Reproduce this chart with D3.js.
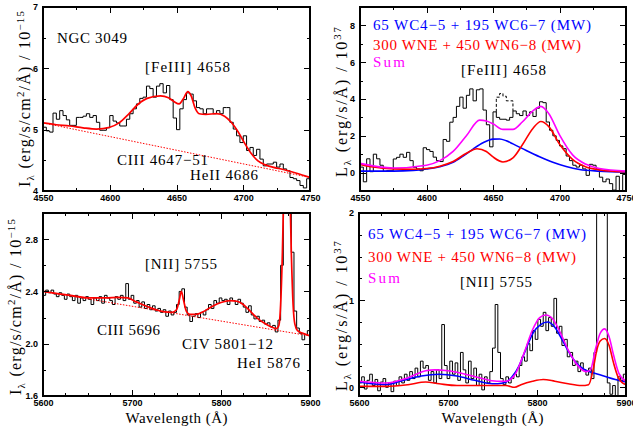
<!DOCTYPE html>
<html>
<head>
<meta charset="utf-8">
<script src="https://cdn.jsdelivr.net/npm/d3@7"></script>
<style>
  body { margin: 0; background: #fff; }
  svg text { fill: #000; }
</style>
</head>
<body>
<svg id="chart" width="633" height="430"></svg>
<script>
// ---- data ----
// NGC 3049, [FeIII] 4658 region (flux, 1e-15 erg/s/cm2/A), 2.5 A bins from 4550
var tlStart = 4550, tlBin = 2.5;
var tlFlux = [5.04, 4.98, 4.96, 5.27, 5.17, 5.31, 5.23, 5.16, 5.07, 5.07,
  5.2, 5.2, 5.22, 5.26, 5.2, 5.23, 5.12, 4.99, 4.99, 5.03,
  5.23, 5.14, 5.11, 5.06, 5.06, 5.17, 5.26, 5.34, 5.42, 5.51,
  5.53, 5.71, 5.67, 5.53, 5.71, 5.75, 5.6, 5.72, 5.49, 5.19,
  5.0, 5.34, 5.49, 5.6, 5.58, 5.47, 5.36, 5.34, 5.26, 5.34,
  5.34, 5.26, 5.31, 5.26, 5.36, 5.36, 5.12, 5.01, 4.9, 4.79,
  4.9, 4.66, 4.71, 4.58, 4.68, 4.52, 4.41, 4.44, 4.44, 4.47,
  4.39, 4.44, 4.36, 4.33, 4.22, 4.2, 4.17, 4.09, 4.05, 4.2];
var tlFit = [[4550, 5.11], [4560, 5.08], [4570, 5.06], [4580, 5.03], [4590, 5.01],
  [4600, 5.04], [4607, 5.11], [4614, 5.25], [4621, 5.41], [4628, 5.51], [4638, 5.55],
  [4644, 5.52], [4648, 5.46], [4652, 5.42], [4655, 5.5], [4658.5, 5.62], [4661, 5.55],
  [4664, 5.35], [4667, 5.26], [4672, 5.25], [4680, 5.26], [4686, 5.22], [4691, 5.12],
  [4696, 4.97], [4701, 4.78], [4706, 4.61], [4711, 4.49], [4716, 4.43], [4722, 4.39],
  [4730, 4.35], [4740, 4.29], [4750, 4.22]];
var tlCont = [[4550, 5.11], [4750, 4.22]];

// luminosity, 1e37 erg/s/A, same bins
var trFlux = [0.3, -0.5, 0.75, 0.05, 1.0, 0.75, 0.4, 0.07, 0.1, 0.1,
  0.74, 0.83, 1.0, 0.83, 1.1, 0.65, 0.29, 0.2, 0.1, 1.35,
  1.25, 1.15, 0.84, 0.65, 0.6, 1.8, 1.7, 2.74, 3.0, 3.6,
  4.1, 3.5, 4.2, 4.55, 3.9, 4.5, 4.55, 3.4, 2.6, 1.4,
  3.3, 3.0, 2.9, 2.9, 2.85, 3.0, 3.35, 3.2, 3.1, 3.35,
  3.1, 3.3, 3.05, 3.5, 3.85, 3.8, 2.75, 2.3, 2.0, 1.75,
  1.45, 1.3, 0.9, 0.65, 0.4, 0.3, 0.4, 0.2, -0.15, 0.45,
  0.4, 0.2, -0.25, -0.5, -0.35, -0.6, -0.95, -0.2, -1.0, -0.1];
var trDashStart = 4652.5;
var trDashFlux = [3.9, 4.1, 4.3, 4.15, 3.9];
var trWC = [[4550, 0.08], [4575, 0.08], [4590, 0.12], [4600, 0.2], [4610, 0.32], [4620, 0.56],
  [4627.5, 0.9], [4635, 1.28], [4642.5, 1.62], [4650, 1.82], [4655, 1.83], [4660, 1.73],
  [4665, 1.56], [4675, 1.2], [4685, 0.86], [4695, 0.56], [4705, 0.33], [4715, 0.17],
  [4730, 0.08], [4750, 0.03]];
var trWN = [[4550, 0.45], [4560, 0.3], [4575, 0.2], [4590, 0.18], [4600, 0.22], [4610, 0.35],
  [4620, 0.6], [4630, 1.05], [4638, 1.3], [4645, 1.15], [4650, 0.85], [4657.5, 0.58],
  [4665, 0.8], [4672, 1.5], [4680, 2.4], [4686, 2.78], [4692, 2.5], [4700, 1.55],
  [4710, 0.7], [4720, 0.3], [4730, 0.15], [4740, 0.08], [4750, 0.05]];
var trSum = [[4550, 0.5], [4575, 0.25], [4600, 0.4], [4610, 0.65], [4620, 1.15], [4630, 2.0],
  [4640, 2.85], [4645, 2.8], [4650, 2.65], [4657.5, 2.35], [4665, 2.35], [4672, 2.75],
  [4680, 3.35], [4686, 3.6], [4692, 3.2], [4700, 2.05], [4710, 0.95], [4720, 0.45],
  [4730, 0.22], [4750, 0.08]];

// [NII] 5755 region, 3 A bins from 5600
var blStart = 5600, blBin = 3;
var blFlux = [2.37, 2.41, 2.39, 2.41, 2.38, 2.36, 2.39, 2.37, 2.34, 2.38,
  2.36, 2.33, 2.37, 2.31, 2.35, 2.33, 2.36, 2.34, 2.30, 2.35,
  2.33, 2.36, 2.31, 2.37, 2.35, 2.33, 2.30, 2.36, 2.34, 2.37,
  2.33, 2.46, 2.34, 2.37, 2.31, 2.33, 2.28, 2.32, 2.27, 2.30,
  2.26, 2.29, 2.25, 2.27, 2.24, 2.26, 2.21, 2.25, 2.22, 2.24,
  2.30, 2.40, 2.42, 2.28, 2.22, 2.17, 2.21, 2.23, 2.20, 2.24,
  2.22, 2.26, 2.30, 2.27, 2.33, 2.31, 2.35, 2.33, 2.34, 2.30,
  2.35, 2.33, 2.30, 2.34, 2.31, 2.28, 2.24, 2.29, 2.22, 2.19,
  2.21, 2.17, 2.18, 2.15, 2.16, 2.13, 2.14, 2.09, 2.18, 2.6,
  3.6, 4.0, 3.7, 2.7, 2.25, 2.12, 2.08, 2.03, 2.07, 2.10];
var blFit = [[5600, 2.40], [5620, 2.38], [5640, 2.36], [5655, 2.35], [5670, 2.35], [5685, 2.355],
  [5695, 2.35], [5705, 2.32], [5715, 2.29], [5725, 2.265], [5735, 2.245], [5745, 2.24],
  [5750, 2.26], [5753, 2.33], [5755.5, 2.40], [5758, 2.33], [5761, 2.25], [5765, 2.225],
  [5772, 2.225], [5780, 2.245], [5790, 2.285], [5800, 2.315], [5810, 2.33], [5818, 2.325],
  [5825, 2.30], [5832, 2.255], [5840, 2.2], [5848, 2.16], [5856, 2.13], [5862, 2.115],
  [5865, 2.14], [5867, 2.3], [5869, 2.7], [5871, 3.3], [5874, 3.8], [5877, 3.3],
  [5879, 2.7], [5881, 2.3], [5883, 2.15], [5886, 2.1], [5892, 2.08], [5900, 2.06]];
var blCont = [[5600, 2.40], [5900, 2.06]];

var brFlux = [0.05, 0.12, -0.02, 0.08, 0.15, 0.02, 0.09, -0.04, 0.06, 0.1,
  0.0, 0.05, -0.05, 0.07, 0.02, 0.12, 0.05, 0.15, 0.08, 0.18,
  0.1, 0.22, 0.12, 0.3, 0.22, 0.25, 0.08, 0.18, 0.05, 0.2,
  0.1, 0.72, 0.25, 0.1, 0.3, 0.15, 0.28, 0.08, 0.4, 0.2,
  0.05, 0.3, 0.1, 0.22, 0.02, 0.15, -0.03, 0.12, 0.05, 0.18,
  0.45, 0.95, 0.4, 0.1, 0.03, 0.12, 0.05, 0.1, 0.15, 0.12,
  0.25, 0.35, 0.3, 0.5, 0.42, 0.65, 0.55, 0.78, 0.7, 0.86,
  0.65, 0.8, 0.7, 1.02, 0.62, 0.7, 0.48, 0.55, 0.35, 0.4,
  0.25, 0.3, 0.18, 0.28, 0.2, 0.14, 0.22, 0.1, 0.4, 2.5,
  3.5, 4.0, 3.5, 0.05, -0.08, 0.02, -0.1, 0.12, 0.08, 0.15];
var brWC = [[5600, 0.06], [5630, 0.03], [5650, 0.08], [5670, 0.13], [5690, 0.15], [5710, 0.13],
  [5730, 0.08], [5750, 0.04], [5762, 0.05], [5772, 0.12], [5780, 0.25], [5788, 0.45],
  [5796, 0.63], [5804, 0.72], [5812, 0.75], [5820, 0.69], [5828, 0.55], [5836, 0.4],
  [5844, 0.28], [5852, 0.21], [5862, 0.17], [5875, 0.13], [5888, 0.09], [5900, 0.06]];
var brWN = [[5600, 0.01], [5630, 0.01], [5655, 0.03], [5675, 0.06], [5690, 0.04], [5710, 0.02],
  [5740, 0.02], [5765, 0.02], [5775, 0.0], [5782, 0.03], [5795, 0.07], [5807, 0.09],
  [5820, 0.07], [5835, 0.04], [5850, 0.02], [5858, 0.03], [5863, 0.2], [5867, 0.42],
  [5871, 0.53], [5876, 0.56], [5881, 0.48], [5886, 0.28], [5891, 0.12], [5896, 0.05], [5900, 0.03]];
var brSum = [[5600, 0.07], [5630, 0.05], [5655, 0.11], [5675, 0.19], [5685, 0.2], [5700, 0.19],
  [5715, 0.16], [5735, 0.11], [5755, 0.07], [5765, 0.07], [5775, 0.14], [5785, 0.38],
  [5795, 0.66], [5803, 0.8], [5810, 0.83], [5818, 0.78], [5826, 0.63], [5835, 0.43],
  [5845, 0.26], [5855, 0.18], [5860, 0.2], [5866, 0.45], [5871, 0.62], [5876, 0.67],
  [5881, 0.58], [5886, 0.37], [5892, 0.16], [5900, 0.07]];

var legendWC = '65 WC4\u22125 + 195 WC6\u22127 (MW)';
var legendWN = '300 WNE + 450 WN6\u22128 (MW)';

// ---- drawing ----
var svg = d3.select('#chart');
var SERIF = 'Liberation Serif';
var RED = '#ff0000', BLUE = '#0000ff', MAG = '#ff00ff';

function stepPts(start, bin, vals) {
  var pts = vals.map(function (v, i) { return [start + i * bin, v]; });
  pts.push([start + vals.length * bin, vals[vals.length - 1]]);
  return pts;
}

function richText(sel, parts, size) {
  var shift = 0;
  parts.forEach(function (p) {
    var target = p.sup ? -6 : (p.sub ? 4 : 0);
    sel.append('tspan')
      .attr('dy', target - shift)
      .attr('font-size', (p.sup || p.sub) ? size * 0.68 : size)
      .text(p.t);
    shift = target;
  });
}

var clipId = 0;
function panel(p) {
  var g = svg.append('g').attr('transform', 'translate(' + p.x0 + ',' + p.y0 + ')');
  var x = d3.scaleLinear().domain(p.xd).range([0, p.w]);
  var y = d3.scaleLinear().domain(p.yd).range([p.h, 0]);
  var id = 'clip' + (clipId++);
  g.append('clipPath').attr('id', id).append('rect').attr('width', p.w).attr('height', p.h);
  var plot = g.append('g').attr('clip-path', 'url(#' + id + ')');

  var minorX = p.xm.filter(function (v) { return p.xt.indexOf(v) < 0; });
  var minorY = p.ym.filter(function (v) { return p.yt.every(function (t) { return Math.abs(t - v) > 1e-9; }); });

  function style(s) {
    s.select('.domain').remove();
    s.attr('font-family', 'Liberation Sans').attr('font-size', 9).attr('font-weight', 'bold');
    s.selectAll('line').attr('stroke', '#000').attr('shape-rendering', 'crispEdges');
  }
  g.append('g').attr('transform', 'translate(0,' + p.h + ')')
    .call(d3.axisBottom(x).tickValues(p.xt).tickSizeInner(-6).tickSizeOuter(0).tickPadding(4).tickFormat(d3.format('d'))).call(style);
  g.append('g').attr('transform', 'translate(0,' + p.h + ')')
    .call(d3.axisBottom(x).tickValues(minorX).tickSize(-3).tickFormat('')).call(style);
  g.append('g').call(d3.axisTop(x).tickValues(p.xt).tickSize(-6).tickFormat('')).call(style);
  g.append('g').call(d3.axisTop(x).tickValues(minorX).tickSize(-3).tickFormat('')).call(style);
  g.append('g')
    .call(d3.axisLeft(y).tickValues(p.yt).tickSizeInner(-6).tickSizeOuter(0).tickPadding(5).tickFormat(p.yf)).call(style);
  g.append('g').call(d3.axisLeft(y).tickValues(minorY).tickSize(-3).tickFormat('')).call(style);
  g.append('g').attr('transform', 'translate(' + p.w + ',0)')
    .call(d3.axisRight(y).tickValues(p.yt).tickSize(-6).tickFormat('')).call(style);
  g.append('g').attr('transform', 'translate(' + p.w + ',0)')
    .call(d3.axisRight(y).tickValues(minorY).tickSize(-3).tickFormat('')).call(style);

  g.append('rect').attr('width', p.w).attr('height', p.h)
    .attr('fill', 'none').attr('stroke', '#000').attr('stroke-width', 1.1)
    .attr('shape-rendering', 'crispEdges');

  return { g: g, plot: plot, x: x, y: y };
}

function addPath(P, pts, color, width, curve, dash) {
  var line = d3.line().x(function (d) { return P.x(d[0]); }).y(function (d) { return P.y(d[1]); }).curve(curve);
  P.plot.append('path').datum(pts).attr('d', line)
    .attr('fill', 'none').attr('stroke', color).attr('stroke-width', width)
    .attr('stroke-dasharray', dash || null);
}

function note(t, x, y, color, len) {
  var s = svg.append('text').attr('x', x).attr('y', y)
    .attr('font-family', SERIF).attr('font-size', 15)
    .style('fill', color || '#000').text(t);
  if (len) s.attr('textLength', len).attr('lengthAdjust', 'spacing');
}

function yLabel(parts, x, y, len) {
  var t = svg.append('text')
    .attr('transform', 'translate(' + x + ',' + y + ') rotate(-90)')
    .attr('text-anchor', 'middle').attr('font-family', SERIF).attr('font-size', 16)
    .attr('textLength', len).attr('lengthAdjust', 'spacing');
  richText(t, parts, 16);
}

var fluxLabel = [{ t: 'I' }, { t: '\u03bb', sub: true }, { t: ' (erg/s/cm' }, { t: '2', sup: true },
  { t: '/\u00c5) / 10' }, { t: '\u221215', sup: true }];
var lumLabel = [{ t: 'L' }, { t: '\u03bb', sub: true }, { t: ' (erg/s/\u00c5) / 10' }, { t: '37', sup: true }];

// top left
var TL = panel({ x0: 43, y0: 7, w: 267, h: 184, xd: [4550, 4750], yd: [4, 7],
  xt: d3.range(4550, 4751, 50), xm: d3.range(4550, 4751, 25),
  yt: [4, 5, 6, 7], ym: d3.range(4, 7.01, 0.5), yf: d3.format('d') });
addPath(TL, stepPts(tlStart, tlBin, tlFlux), '#000', 1, d3.curveStepAfter);
addPath(TL, tlCont, RED, 1, d3.curveLinear, '1.5,1.5');
addPath(TL, tlFit, RED, 1.7, d3.curveMonotoneX);

// top right
var TR = panel({ x0: 360, y0: 7, w: 266, h: 184, xd: [4550, 4750], yd: [-1, 9],
  xt: d3.range(4550, 4751, 50), xm: d3.range(4550, 4751, 25),
  yt: [0, 2, 4, 6, 8], ym: d3.range(-1, 9.01, 1), yf: d3.format('d') });
addPath(TR, stepPts(tlStart, tlBin, trFlux), '#000', 1, d3.curveStepAfter);
var i0 = Math.round((trDashStart - tlStart) / tlBin);
var dashPts = [[trDashStart, trFlux[i0 - 1]]].concat(stepPts(trDashStart, tlBin, trDashFlux));
dashPts.push([trDashStart + trDashFlux.length * tlBin, trFlux[i0 + trDashFlux.length]]);
addPath(TR, dashPts, '#000', 1, d3.curveStepBefore, '3,2');
addPath(TR, trWC, BLUE, 1.6, d3.curveMonotoneX);
addPath(TR, trWN, RED, 1.6, d3.curveMonotoneX);
addPath(TR, trSum, MAG, 1.6, d3.curveMonotoneX);

// bottom left
var BL = panel({ x0: 43, y0: 213, w: 267, h: 183, xd: [5600, 5900], yd: [1.6, 3.0],
  xt: d3.range(5600, 5901, 100), xm: d3.range(5600, 5901, 25),
  yt: [1.6, 2.0, 2.4, 2.8], ym: [1.6, 1.8, 2.0, 2.2, 2.4, 2.6, 2.8, 3.0], yf: d3.format('.1f') });
addPath(BL, stepPts(blStart, blBin, blFlux), '#000', 1, d3.curveStepAfter);
addPath(BL, blCont, RED, 1, d3.curveLinear, '1.5,1.5');
addPath(BL, blFit, RED, 1.7, d3.curveMonotoneX);

// bottom right
var BR = panel({ x0: 359, y0: 213, w: 267, h: 183, xd: [5600, 5900], yd: [-0.1, 2.0],
  xt: d3.range(5600, 5901, 100), xm: d3.range(5600, 5901, 25),
  yt: [0, 1, 2], ym: d3.range(0, 2.01, 0.25), yf: d3.format('d') });
addPath(BR, stepPts(blStart, blBin, brFlux), '#000', 1, d3.curveStepAfter);
addPath(BR, brWC, BLUE, 1.6, d3.curveMonotoneX);
addPath(BR, brWN, RED, 1.6, d3.curveMonotoneX);
addPath(BR, brSum, MAG, 1.6, d3.curveMonotoneX);

// labels
yLabel(fluxLabel, 30, 99, 176);
yLabel(lumLabel, 347, 102, 150);
yLabel(fluxLabel, 21, 307, 176);
yLabel(lumLabel, 347, 316, 150);

[176.5, 492.5].forEach(function (cx) {
  svg.append('text').attr('x', cx).attr('y', 423).attr('text-anchor', 'middle')
    .attr('font-family', SERIF).attr('font-size', 15).attr('textLength', 102)
    .attr('lengthAdjust', 'spacing').text('Wavelength (\u00c5)');
});

note('NGC 3049', 57, 43, null, 70);
note('[FeIII] 4658', 145, 72, null, 85);
note('CIII 4647\u221251', 117, 165, null, 91);
note('HeII 4686', 190, 180, null, 68);

note(legendWC, 373, 30, BLUE, 218);
note(legendWN, 373, 50, RED, 208);
note('Sum', 373, 67, MAG, 32);
note('[FeIII] 4658', 461, 75, null, 85);

note('[NII] 5755', 145, 269, null, 72);
note('CIII 5696', 97, 335, null, 63);
note('CIV 5801\u221212', 182, 349, null, 91);
note('HeI 5876', 237, 368, null, 63);

note(legendWC, 368, 239, BLUE, 218);
note(legendWN, 368, 262, RED, 208);
note('Sum', 368, 283, MAG, 32);
note('[NII] 5755', 460, 287, null, 72);
</script>
</body>
</html>
